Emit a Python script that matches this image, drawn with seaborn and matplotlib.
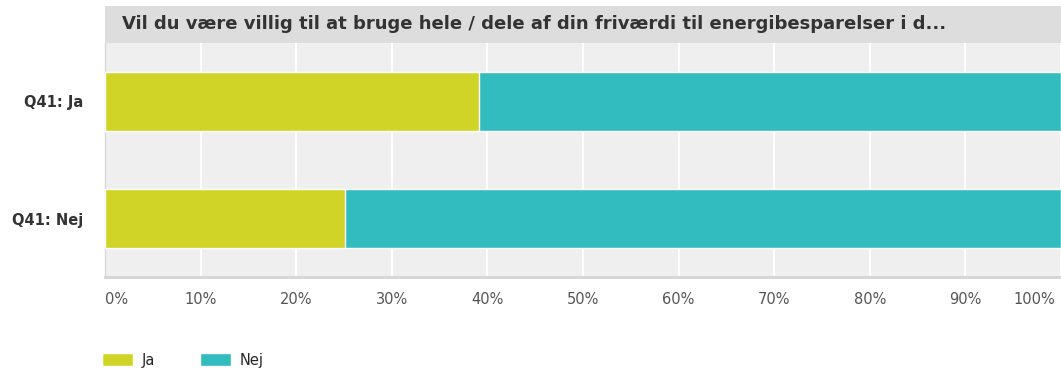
import pandas as pd
import matplotlib.pyplot as plt
import seaborn as sns
from matplotlib.patches import Rectangle, Patch
from matplotlib.transforms import blended_transform_factory

# Data
categories = ['Q41: Ja', 'Q41: Nej']
ja_pct = [39.1, 25.1]
nej_pct = [60.9, 74.9]
ticks = [0, 10, 20, 30, 40, 50, 60, 70, 80, 90, 100]
title = 'Vil du være villig til at bruge hele / dele af din friværdi til energibesparelser i d...'

col_ja = '#cfd427'
col_nej = '#33bcc0'

df = pd.DataFrame({'cat': categories, 'ja': ja_pct, 'nej': nej_pct})
df['total'] = df['ja'] + df['nej']

sns.set_style('white')
plt.rcParams['font.family'] = ['DejaVu Sans']

fig = plt.figure(figsize=(10.61, 3.69), dpi=100)
ax = fig.add_axes([105 / 1061, 1 - 277 / 369, 956 / 1061, 234 / 369])
ax.set_facecolor('#efefef')

# stacked: total in Nej colour, Ja drawn on top
sns.barplot(data=df, x='total', y='cat', color=col_nej, width=0.5, orient='h',
            saturation=1, ax=ax, zorder=3)
sns.barplot(data=df, x='ja', y='cat', color=col_ja, width=0.5, orient='h',
            saturation=1, ax=ax, zorder=3)

ax.set_xlim(0, 100)
ax.set_ylim(1.5, -0.5)
ax.set_xticks(ticks)
# last label is drawn separately so it stays inside the figure
ax.set_xticklabels([f'{t}%' for t in ticks[:-1]] + [''], color='#555555', fontsize=10.5)
ax.get_xticklabels()[0].set_ha('left')
trans = blended_transform_factory(ax.transData, fig.transFigure)
ax.text(99.4, 1 - 299 / 369, f'{ticks[-1]}%', transform=trans, ha='right', va='center',
        color='#555555', fontsize=10.5)
ax.tick_params(axis='x', length=0, pad=11)
ax.tick_params(axis='y', length=0, pad=16)
for lab in ax.get_yticklabels():
    lab.set_fontweight('bold')
    lab.set_fontsize(10.5)
    lab.set_color('#333333')
ax.set_xlabel('')
ax.set_ylabel('')
ax.xaxis.grid(True, color='white', linewidth=1.5, zorder=1)
ax.set_axisbelow(True)
for s in ['top', 'right']:
    ax.spines[s].set_visible(False)
ax.spines['left'].set_color('#d8d8d8')
ax.spines['left'].set_linewidth(1)
ax.spines['bottom'].set_color('#d5d5d5')
ax.spines['bottom'].set_linewidth(2)

# title band
fig.patches.append(Rectangle((105 / 1061, 1 - 43 / 369), 956 / 1061, 37 / 369,
                             transform=fig.transFigure, facecolor='#dddddd',
                             edgecolor='none'))
fig.text(122 / 1061, 1 - 24 / 369, title, fontsize=13, fontweight='bold',
         color='#333333', va='center', ha='left')

handles = [Patch(facecolor=col_ja, label='Ja'), Patch(facecolor=col_nej, label='Nej')]
fig.legend(handles=handles, loc='center left', bbox_to_anchor=(102 / 1061, 1 - 360 / 369),
           ncol=2, frameon=False, fontsize=10.5, handlelength=2.1, handleheight=0.95,
           columnspacing=3.1, handletextpad=0.6, borderpad=0, borderaxespad=0)

fig.savefig('out.png', dpi=100)
